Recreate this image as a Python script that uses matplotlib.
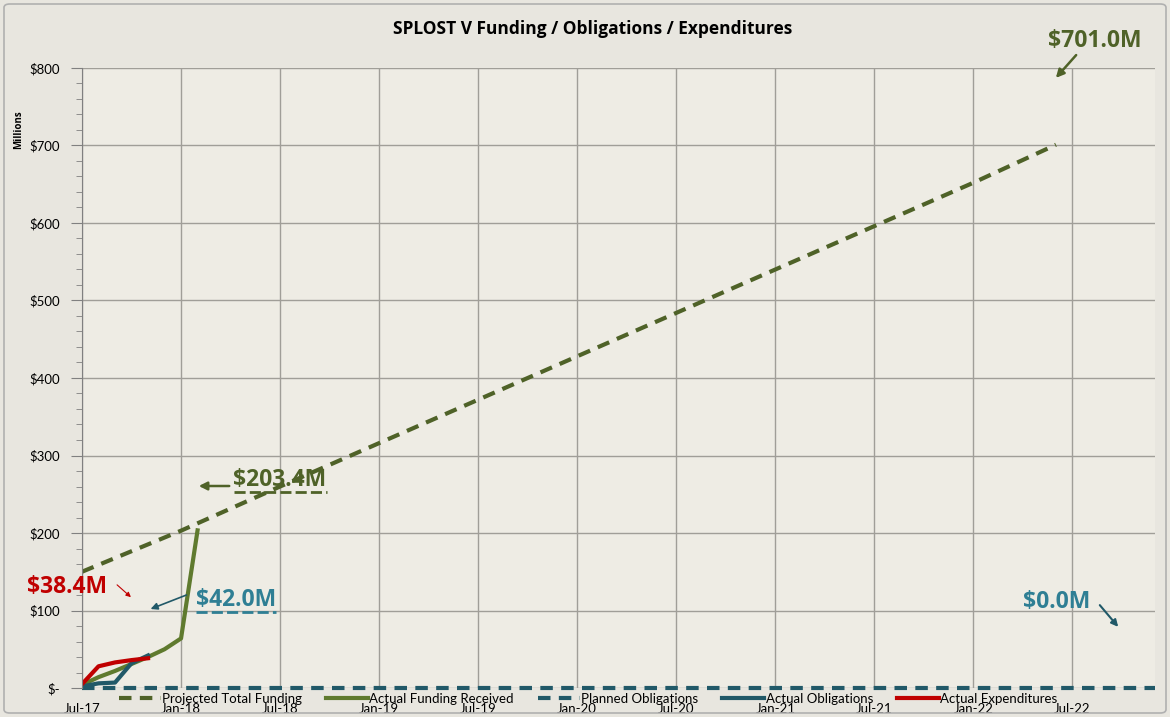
import matplotlib.pyplot as plt
from matplotlib.patches import FancyBboxPatch
from matplotlib.lines import Line2D
import numpy as np

plt.rcParams['font.family'] = ['Lato', 'DejaVu Sans']

# months since Jul-17
proj_months = [0, 6, 12, 18, 24, 30, 36, 42, 48, 54, 59]
proj_funding = [150, 203, 260, 316, 372, 428, 484, 540, 596, 652, 701]

fund_months = [0, 1, 2, 3, 4, 5, 6, 7]
fund_received = [4, 14, 22, 31, 40, 50, 64, 203.4]

plan_months = [0, 65]
plan_oblig = [0, 0]

oblig_months = [0, 1, 2, 3, 4]
act_oblig = [2, 6, 7, 32, 42.0]

exp_months = [0, 1, 2, 3, 4]
act_exp = [5, 28, 33, 36, 38.4]

tick_labels = ['Jul-17', 'Jan-18', 'Jul-18', 'Jan-19', 'Jul-19', 'Jan-20',
               'Jul-20', 'Jan-21', 'Jul-21', 'Jan-22', 'Jul-22']

olive = '#4f6228'
olive2 = '#5f7a2e'
teal = '#2f7f94'
teal_d = '#215968'
red = '#c00000'
bold_font = ['Open Sans', 'DejaVu Sans']

W, H = 1170, 717
fig = plt.figure(figsize=(W / 100, H / 100), dpi=100, facecolor='#e8e6df')
ax = fig.add_axes([82 / W, 1 - 688 / H, (1155 - 82) / W, (688 - 68) / H])
ax.set_facecolor('#eeece4')

# outer frame
fig.patches.append(FancyBboxPatch((4 / W, 4 / H), 1 - 8 / W, 1 - 8 / H,
                                  boxstyle='round,pad=0,rounding_size=0.005',
                                  transform=fig.transFigure, fill=False,
                                  edgecolor='#b0b0b0', lw=1.2))

ax.plot(proj_months, proj_funding, color=olive, lw=3, ls=(0, (3, 2)),
        label='Projected Total Funding')
ax.plot(fund_months, fund_received, color=olive2, lw=3, label='Actual Funding Received')
ax.plot(plan_months, plan_oblig, color=teal_d, lw=3, ls=(0, (3, 2)),
        label='Planned Obligations', clip_on=False)
ax.plot(oblig_months, act_oblig, color=teal_d, lw=3, label='Actual Obligations')
ax.plot(exp_months, act_exp, color=red, lw=3, label='Actual Expenditures')

ax.set_xlim(0, 65)
ax.set_ylim(0, 800)
ax.set_xticks(np.arange(0, 61, 6))
ax.set_xticklabels(tick_labels, fontsize=9.5)
ax.set_yticks(np.arange(0, 801, 100))
ax.set_yticklabels(['$-'] + ['$%d' % v for v in range(100, 801, 100)], fontsize=9.5)
ax.set_yticks(np.arange(0, 801, 20), minor=True)
ax.tick_params(axis='y', which='major', length=8, color='#808080', pad=8)
ax.tick_params(axis='y', which='minor', length=4, color='#808080')
ax.tick_params(axis='x', length=0, pad=11)
ax.grid(True, which='major', color='#a09e98', lw=1)
for s in ['top', 'right', 'bottom']:
    ax.spines[s].set_visible(False)
ax.spines['left'].set_color('#808080')
ax.set_axisbelow(True)

ax.set_ylabel('Millions', fontsize=7, fontweight='bold', family=bold_font)
ax.yaxis.set_label_coords(-0.054, 0.9)

fig.text(593 / W, 1 - 29 / H, 'SPLOST V Funding / Obligations / Expenditures',
         ha='center', va='center', fontsize=12.5, fontweight='bold', family=bold_font)

leg = fig.legend(loc='center', bbox_to_anchor=(588 / W, 1 - 699 / H), ncol=5,
                 frameon=False, fontsize=9.5, handlelength=3.2, columnspacing=1.8,
                 handletextpad=0.1)


def fp(x, y):
    return (x / W, 1 - y / H)


def arrow(tail, head, color, lw, ms):
    ax.annotate('', xy=fp(*head), xytext=fp(*tail), xycoords='figure fraction',
                textcoords='figure fraction',
                arrowprops=dict(arrowstyle='-|>', color=color, lw=lw, mutation_scale=ms))


def label(x, y, txt, color):
    fig.text(*fp(x, y), txt, color=color, fontsize=16.5, fontweight='bold',
             family=bold_font, ha='center', va='center')


def underline(x0, x1, y, color):
    fig.add_artist(Line2D([x0 / W, x1 / W], [1 - y / H, 1 - y / H], color=color,
                          lw=2, ls=(0, (4, 1.5)), transform=fig.transFigure))


# annotations (pixel positions)
label(1095, 41, '$701.0M', olive)
arrow((1078, 53), (1054, 80), olive, 1.8, 12)

label(280, 480, '$203.4M', olive)
underline(234, 327, 492, olive)
arrow((232, 486), (196, 486), olive, 1.8, 12)

label(236, 600, '$42.0M', teal)
underline(196, 276, 612, teal)
arrow((189, 594), (148, 610), teal_d, 1.2, 10)

label(67, 587, '$38.4M', red)
arrow((115, 583), (133, 599), red, 0.8, 7)

label(1057, 602, '$0.0M', teal)
arrow((1098, 603), (1120, 629), teal_d, 1.5, 10)

fig.savefig('out.png', dpi=100, facecolor=fig.get_facecolor())
